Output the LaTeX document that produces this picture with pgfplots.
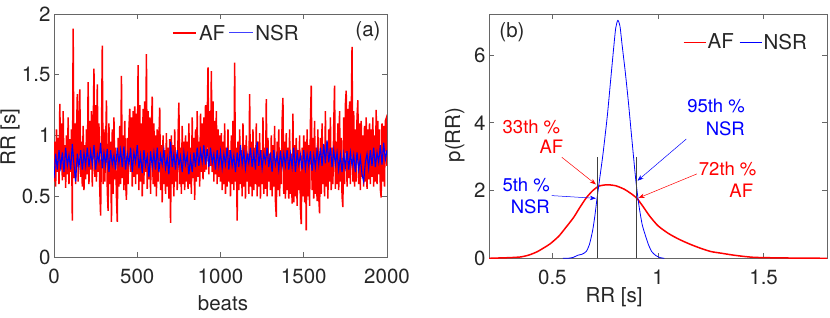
\documentclass[border=0pt]{standalone}
\usepackage{fontspec}
\setmainfont{TeX Gyre Heros}
\usepackage{pgfplots}
\usepackage{pgfplotstable}
\pgfplotsset{compat=1.18}
\usetikzlibrary{arrows.meta}
\definecolor{axgray}{rgb}{0.40,0.40,0.40}
\definecolor{txt}{rgb}{0.15,0.15,0.15}
\newcommand\fs{\fontsize{20.5}{24}\selectfont}
\newcommand\fa{\fontsize{18.5}{22}\selectfont}
\pgfplotstableread[row sep=\\, header=false]{
0.62\\0.95\\0.58\\1.05\\0.7\\0.98\\0.6\\1.26\\0.72\\1.1\\0.63\\1.2\\0.66\\0.92\\0.57\\1.0\\0.68\\1.15\\0.6\\0.97\\
0.7\\1.05\\0.30\\1.88\\0.65\\1.1\\0.6\\1.0\\1.34\\0.62\\1.12\\1.38\\0.66\\0.95\\0.58\\1.08\\0.55\\0.92\\0.64\\1.05\\
0.68\\1.44\\0.6\\1.12\\0.72\\1.2\\0.58\\1.0\\1.55\\0.66\\1.25\\0.62\\1.42\\0.7\\1.1\\0.55\\0.34\\0.95\\1.74\\0.6\\
1.05\\0.62\\0.9\\1.29\\0.55\\0.38\\1.1\\0.6\\0.95\\0.29\\1.05\\0.52\\1.15\\0.64\\0.9\\0.5\\0.29\\0.98\\0.58\\1.08\\
0.6\\1.49\\0.65\\1.0\\0.55\\1.12\\0.62\\0.47\\0.98\\0.6\\1.05\\1.22\\0.7\\1.15\\0.58\\1.2\\0.66\\1.24\\0.6\\1.18\\
0.68\\1.58\\0.55\\1.25\\0.62\\1.1\\0.5\\1.22\\0.6\\1.28\\0.7\\1.67\\0.56\\1.2\\0.64\\1.15\\0.52\\1.05\\1.32\\0.6\\
1.1\\0.58\\1.0\\0.5\\1.05\\0.62\\0.95\\1.23\\0.55\\0.92\\0.45\\1.0\\0.6\\0.88\\0.52\\1.02\\0.58\\0.9\\0.48\\0.97\\
0.28\\1.0\\0.6\\0.92\\0.5\\1.05\\0.62\\0.85\\0.55\\0.98\\1.27\\0.6\\0.9\\0.52\\1.08\\0.6\\0.95\\0.55\\1.0\\0.62\\
0.95\\0.56\\1.1\\0.6\\0.9\\0.52\\1.15\\0.65\\0.98\\0.47\\1.05\\0.62\\1.2\\0.66\\0.95\\0.58\\1.18\\0.7\\1.1\\0.64\\
1.15\\0.7\\1.25\\0.72\\1.1\\1.56\\0.68\\1.2\\0.75\\1.53\\0.7\\1.28\\0.62\\1.12\\0.68\\1.2\\0.6\\1.05\\0.66\\1.0\\
0.62\\1.02\\0.55\\0.95\\0.6\\1.1\\0.52\\0.9\\0.58\\1.05\\0.62\\0.88\\0.5\\1.0\\0.6\\1.12\\0.55\\1.6\\0.62\\0.9\\
0.30\\0.95\\0.55\\1.05\\0.6\\0.88\\0.5\\1.1\\0.58\\0.92\\0.48\\1.0\\0.62\\0.85\\0.52\\1.34\\0.58\\0.95\\0.5\\1.05\\
0.55\\0.9\\0.6\\1.1\\0.5\\0.95\\0.58\\1.02\\0.48\\0.88\\0.6\\1.15\\0.52\\0.9\\0.56\\1.3\\0.5\\0.98\\0.62\\0.85\\
0.55\\1.0\\0.5\\0.92\\0.58\\1.08\\0.46\\0.33\\0.95\\0.55\\1.05\\0.5\\0.88\\0.6\\1.12\\1.31\\0.52\\0.95\\0.48\\1.02\\
0.55\\0.9\\0.48\\1.05\\0.52\\0.85\\0.44\\1.18\\0.45\\0.92\\0.5\\0.98\\0.42\\0.88\\0.55\\1.0\\0.4\\0.27\\0.9\\0.5\\
1.0\\0.45\\0.95\\0.22\\1.05\\0.5\\0.92\\0.42\\1.1\\1.41\\0.55\\0.98\\0.48\\1.12\\0.52\\0.9\\0.46\\1.05\\0.5\\0.36\\
0.98\\0.52\\1.1\\0.6\\0.92\\0.5\\1.2\\0.58\\0.95\\0.48\\1.05\\0.62\\1.15\\0.55\\0.9\\0.6\\1.08\\1.41\\0.56\\0.95\\
0.6\\1.1\\0.55\\1.2\\0.62\\0.98\\0.5\\0.41\\1.15\\0.6\\1.25\\1.37\\0.58\\1.22\\0.65\\1.28\\0.6\\1.1\\1.73\\0.62\\
1.2\\0.58\\1.05\\0.62\\1.15\\1.29\\0.6\\1.1\\0.55\\1.12\\0.66\\1.0\\0.58\\1.08\\0.62\\1.15\\0.56\\1.05\\0.64\\1.1\\
0.6\\1.05\\0.66\\1.15\\0.58\\1.0\\0.62\\1.21\\0.6\\1.12\\0.68\\1.05\\0.56\\0.49\\1.1\\0.62\\1.08\\0.58\\1.12\\1.14\\
0.75\\
}\afdata
\pgfplotstableread[row sep=\\, header=false]{
0.65\\0.85\\0.72\\0.88\\0.74\\0.86\\0.7\\0.9\\0.75\\0.84\\0.72\\0.93\\0.76\\0.62\\0.85\\0.74\\0.88\\0.72\\0.86\\0.75\\
0.9\\0.74\\0.87\\0.76\\0.92\\0.72\\0.85\\0.78\\0.94\\0.73\\0.86\\0.75\\0.89\\0.7\\0.88\\0.76\\0.84\\0.72\\0.9\\0.77\\
0.88\\0.74\\0.91\\0.72\\0.85\\0.76\\0.9\\0.7\\0.86\\0.78\\0.92\\0.73\\0.84\\0.69\\0.88\\0.75\\0.83\\0.66\\0.87\\0.74\\
0.86\\0.72\\0.9\\0.7\\0.84\\0.76\\0.88\\0.73\\0.82\\0.68\\0.95\\0.74\\0.85\\0.72\\0.88\\0.75\\0.83\\0.7\\0.86\\0.76\\
0.84\\0.68\\0.82\\0.7\\0.86\\0.74\\0.9\\0.75\\0.88\\0.78\\0.92\\0.76\\0.89\\0.74\\0.9\\0.77\\0.85\\0.72\\0.88\\0.75\\
0.87\\0.73\\0.85\\0.76\\0.9\\0.72\\0.88\\0.75\\0.84\\0.7\\0.86\\0.74\\0.92\\0.76\\0.87\\0.73\\0.85\\0.77\\0.9\\0.74\\
0.86\\0.72\\0.95\\0.75\\0.88\\0.73\\0.85\\0.78\\0.9\\0.74\\0.86\\0.7\\0.88\\0.76\\0.84\\0.72\\0.87\\0.74\\0.85\\0.75\\
0.88\\0.72\\0.85\\0.74\\0.9\\0.7\\0.86\\0.76\\0.84\\0.72\\0.88\\0.73\\0.85\\0.75\\0.87\\0.71\\0.84\\0.74\\0.88\\0.76\\
0.9\\0.75\\0.93\\0.77\\0.96\\0.78\\0.9\\0.74\\0.88\\0.76\\0.86\\0.72\\0.84\\0.7\\0.85\\0.74\\0.87\\0.72\\0.86\\0.75\\
0.84\\0.7\\0.86\\0.72\\0.82\\0.68\\0.62\\0.78\\0.85\\0.73\\0.88\\0.75\\0.9\\0.74\\0.86\\0.78\\0.92\\0.76\\0.94\\0.8\\
0.88\\
}\nsrdata
\pgfplotsset{
  myax/.style={scale only axis, anchor=south west,
    axis line style={axgray, line width=0.6pt},
    tick style={axgray, line width=0.6pt},
    tick align=inside, major tick length=5pt,
    xtick pos=both, ytick pos=both,
    tick label style={font=\fs, text=txt},
    xticklabel shift=8pt,
    /pgf/number format/assume math mode=true,
    /pgf/number format/1000 sep={},
    scaled ticks=false,
    legend style={font=\fs, text=txt, draw=none, fill=none, legend columns=2,
      nodes={inner sep=1.5pt},
      /tikz/every even column/.append style={column sep=4pt}},
    legend image code/.code={\draw[##1] (0pt,0pt) -- (22pt,0pt);},
  }
}
\begin{document}
\begin{tikzpicture}
\useasboundingbox (0,0) rectangle (830pt,317pt);
% ---------------- (a)
\begin{axis}[myax, at={(54pt,60pt)}, width=333pt, height=243pt,
  xmin=0, xmax=2000, ymin=0, ymax=2,
  xtick={0,500,1000,1500,2000}, ytick={0,0.5,1,1.5,2}]
\addplot[red, line width=1.5pt] table[x expr=\coordindex*5, y index=0] {\afdata};
\addplot[blue, line width=1.1pt] table[x expr=\coordindex*10, y index=0] {\nsrdata};
% legend (AF, NSR)
\draw[red, line width=1.5pt] (rel axis cs:0.357,0.922) -- (rel axis cs:0.426,0.922);
\node[font=\fs, text=txt, anchor=west, inner sep=0pt] at (rel axis cs:0.435,0.922) {AF};
\draw[blue!75, line width=1.0pt] (rel axis cs:0.526,0.922) -- (rel axis cs:0.598,0.922);
\node[font=\fs, text=txt, anchor=west, inner sep=0pt] at (rel axis cs:0.604,0.922) {NSR};
\node[font=\fs, text=txt] at (rel axis cs:0.943,0.93) {(a)};
\end{axis}
% ---------------- (b)
\begin{axis}[myax, at={(489pt,58.7pt)}, width=338pt, height=244pt,
  xmin=0.2, xmax=1.8, ymin=0, ymax=7.2,
  xtick={0.5,1,1.5}, ytick={0,2,4,6},
  legend style={at={(0.76,0.886)}, anchor=center}]
\addlegendimage{red, line width=0.8pt}\addlegendentry{AF}
\addlegendimage{blue, line width=0.8pt}\addlegendentry{NSR}
\addplot[red, line width=1.5pt, smooth, tension=0.4, forget plot] coordinates {
(0.2,0) (0.25,0.01) (0.3,0.02) (0.35,0.04) (0.38,0.08) (0.4,0.12) (0.43,0.2)
(0.46,0.31) (0.49,0.43) (0.53,0.65) (0.56,0.88) (0.6,1.2) (0.63,1.5) (0.66,1.78)
(0.69,1.99) (0.72,2.13) (0.76,2.17) (0.8,2.14) (0.84,2.04) (0.87,1.92) (0.9,1.77)
(0.93,1.52) (0.96,1.25) (1.0,0.96) (1.05,0.73) (1.1,0.56) (1.15,0.42) (1.2,0.3)
(1.25,0.2) (1.3,0.15) (1.35,0.1) (1.4,0.06) (1.45,0.03) (1.5,0.02) (1.6,0.01) (1.8,0)};
\addplot[blue, line width=0.8pt, smooth, tension=0.4, forget plot] coordinates {
(0.55,0) (0.58,0.005) (0.6,0.03) (0.62,0.09) (0.64,0.12) (0.66,0.2) (0.675,0.4)
(0.69,0.8) (0.70,1.2) (0.712,1.8) (0.725,2.4) (0.74,3.1) (0.76,4.2) (0.775,5.2)
(0.79,6.2) (0.80,6.8) (0.81,7.02) (0.82,6.85) (0.83,6.3) (0.845,5.5) (0.86,4.6)
(0.875,3.6) (0.895,2.3) (0.91,1.55) (0.925,1.0) (0.94,0.68) (0.955,0.4) (0.97,0.2)
(0.99,0.08) (1.01,0.02) (1.03,0)};
\addplot[black!75, line width=0.6pt, forget plot] coordinates {(0.712,0) (0.712,3)};
\addplot[black!75, line width=0.6pt, forget plot] coordinates {(0.895,0) (0.895,3)};
\node[font=\fs, text=txt] at (rel axis cs:0.068,0.925) {(b)};
\node[font=\fa, text=red, anchor=east, inner sep=0pt] at (axis cs:0.538,3.89) {33th \%};
\node[font=\fa, text=red, anchor=east, inner sep=0pt] at (axis cs:0.552,3.28) {AF};
\node[font=\fa, text=blue, anchor=east, inner sep=0pt] at (axis cs:0.489,2.16) {5th \%};
\node[font=\fa, text=blue, anchor=east, inner sep=0pt] at (axis cs:0.489,1.52) {NSR};
\node[font=\fa, text=blue, anchor=east, inner sep=0pt] at (axis cs:1.412,4.51) {95th \%};
\node[font=\fa, text=blue, anchor=east, inner sep=0pt] at (axis cs:1.412,3.82) {NSR};
\node[font=\fa, text=red, anchor=east, inner sep=0pt] at (axis cs:1.467,2.65) {72th \%};
\node[font=\fa, text=red, anchor=east, inner sep=0pt] at (axis cs:1.451,1.98) {AF};
\draw[red, line width=0.5pt, -{Stealth[length=6pt,width=4.5pt]}] (axis cs:0.545,2.98) -- (axis cs:0.706,2.18);
\draw[blue, line width=0.5pt, -{Stealth[length=6pt,width=4.5pt]}] (axis cs:0.497,1.85) -- (axis cs:0.706,1.77);
\draw[blue, line width=0.5pt, -{Stealth[length=6pt,width=4.5pt]}] (axis cs:1.134,3.52) -- (axis cs:0.903,2.29);
\draw[red, line width=0.5pt, -{Stealth[length=6pt,width=4.5pt]}] (axis cs:1.184,2.49) -- (axis cs:0.908,1.78);
\end{axis}
% axis labels
\node[font=\fs, text=txt, rotate=90] at (10pt,180pt) {RR [s]};
\node[font=\fs, text=txt, anchor=base] at (223pt,6.3pt) {beats};
\node[font=\fs, text=txt, rotate=90] at (455pt,182pt) {p(RR)};
\node[font=\fs, text=txt, anchor=base] at (614pt,14.3pt) {RR [s]};
\end{tikzpicture}
\end{document}
